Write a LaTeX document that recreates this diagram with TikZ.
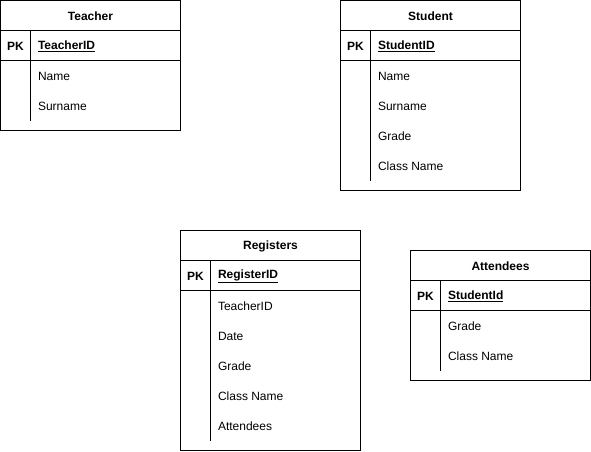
\documentclass[tikz,border=0pt]{standalone}
\usepackage{fontspec}
\setmainfont{Liberation Sans}
\begin{document}
\begin{tikzpicture}[x=1pt,y=-1pt,line width=1pt,titulo/.style = {font=\fontsize{12}{14}\selectfont\bfseries,yshift=-1pt},clave/.style = {font=\fontsize{12}{14}\selectfont\bfseries,anchor=west,inner xsep=0pt,yshift=-1pt},campo/.style = {font=\fontsize{12}{14}\selectfont,anchor=west,inner xsep=0pt,xshift=-1pt,yshift=-1pt},]
		\useasboundingbox (0,0) rectangle (591,451);
		% Teacher
		\draw (0.5,0.5) rectangle (180.5,130.5);
		\draw (0.5,30.5) -- (180.5,30.5);
		\draw (0.5,60.5) -- (180.5,60.5);
		\draw (30.5,30.5) -- (30.5,120.5);
		\node[titulo] (teacher) at (90.5,15.5) {Teacher};
		\node[clave] (pkt) at (6.5,45.5) {PK};
		\node[campo] (teacherid) at (38.5,45.5) {\bfseries\underline{TeacherID}};
		\node[campo] (tname) at (38.5,75.5) {Name};
		\node[campo] (tsurname) at (38.5,105.5) {Surname};
		
		% Student
		\draw (340.5,0.5) rectangle (520.5,190.5);
		\draw (340.5,30.5) -- (520.5,30.5);
		\draw (340.5,60.5) -- (520.5,60.5);
		\draw (370.5,30.5) -- (370.5,180.5);
		\node[titulo] (student) at (430.5,15.5) {Student};
		\node[clave] (pks) at (346.5,45.5) {PK};
		\node[campo] (studentid) at (378.5,45.5) {\bfseries\underline{StudentID}};
		\node[campo] (sname) at (378.5,75.5) {Name};
		\node[campo] (ssurname) at (378.5,105.5) {Surname};
		\node[campo] (sgrade) at (378.5,135.5) {Grade};
		\node[campo] (sclass) at (378.5,165.5) {Class Name};
		
		% Registers
		\draw (180.5,230.5) rectangle (360.5,450.5);
		\draw (180.5,260.5) -- (360.5,260.5);
		\draw (180.5,290.5) -- (360.5,290.5);
		\draw (210.5,260.5) -- (210.5,440.5);
		\node[titulo] (registers) at (270.5,245.5) {Registers};
		\node[clave] (pkr) at (186.5,275.5) {PK};
		\node[campo] (registerid) at (218.5,275.5) {\bfseries\underline{RegisterID}};
		\node[campo] (rteacher) at (218.5,305.5) {TeacherID};
		\node[campo] (rdate) at (218.5,335.5) {Date};
		\node[campo] (rgrade) at (218.5,365.5) {Grade};
		\node[campo] (rclass) at (218.5,395.5) {Class Name};
		\node[campo] (rattendees) at (218.5,425.5) {Attendees};
		
		% Attendees
		\draw (410.5,250.5) rectangle (590.5,380.5);
		\draw (410.5,280.5) -- (590.5,280.5);
		\draw (410.5,310.5) -- (590.5,310.5);
		\draw (440.5,280.5) -- (440.5,370.5);
		\node[titulo] (attendees) at (500.5,265.5) {Attendees};
		\node[clave] (pka) at (416.5,295.5) {PK};
		\node[campo] (astudentid) at (448.5,295.5) {\bfseries\underline{StudentId}};
		\node[campo] (agrade) at (448.5,325.5) {Grade};
		\node[campo] (aclass) at (448.5,355.5) {Class Name};
	\end{tikzpicture}
\end{document}
